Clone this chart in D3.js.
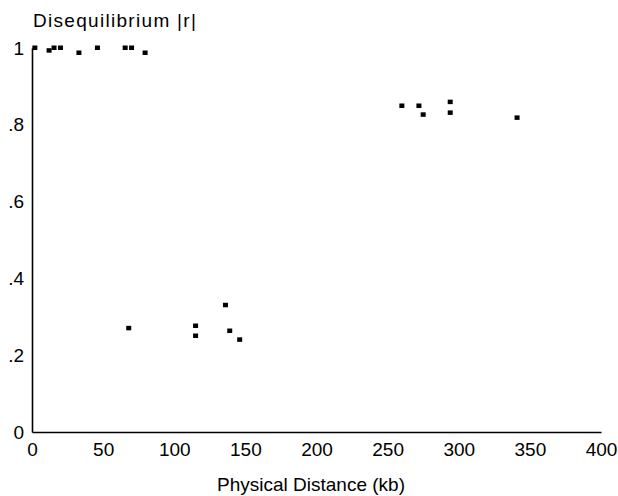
<!DOCTYPE html>
<html>
<head>
<meta charset="utf-8">
<script src="https://cdn.jsdelivr.net/npm/d3@7"></script>
<style>
  html, body { margin: 0; padding: 0; background: #fff; }
  svg { display: block; }
  text { font-family: "Liberation Sans", Arial, Helvetica, sans-serif; fill: #000; }
</style>
</head>
<body>
<svg id="chart" width="618" height="496"></svg>
<script>
// Data (physical distance in kb, |r|)
const distanceKb = [2, 12, 15.5, 20, 33, 46, 65.5, 70, 79.5,
                    68, 115, 115, 136, 139, 146,
                    260, 272, 275, 294, 294, 341];
const rValues    = [1.0, 0.993, 1.0, 1.0, 0.987, 1.0, 1.0, 1.0, 0.987,
                    0.27, 0.276, 0.25, 0.33, 0.263, 0.24,
                    0.849, 0.849, 0.826, 0.859, 0.831, 0.818];
const xTicks = [0, 50, 100, 150, 200, 250, 300, 350, 400];
const yTicks = [0, 0.2, 0.4, 0.6, 0.8, 1];
const yTickLabels = ["0", ".2", ".4", ".6", ".8", "1"];
const xTitle = "Physical Distance (kb)";
const yTitle = "Disequilibrium |r|";

const svg = d3.select("#chart");
const x = d3.scaleLinear().domain([0, 400]).range([32, 601]);
const y = d3.scaleLinear().domain([0, 1]).range([432, 48]);

const FONT = "'Liberation Sans', Arial, Helvetica, sans-serif";

// X axis
const xAxis = svg.append("g")
  .attr("transform", `translate(0,${y(0)})`)
  .call(d3.axisBottom(x).tickValues(xTicks).tickSize(0).tickPadding(11).tickSizeOuter(0));
xAxis.select(".domain").attr("stroke", "#000").attr("stroke-width", 1.6);
xAxis.selectAll("text").attr("font-size", 19).style("font-family", FONT).attr("fill", "#000");

// Y axis
const yAxis = svg.append("g")
  .attr("transform", `translate(${x(0)},0)`)
  .call(d3.axisLeft(y).tickValues(yTicks).tickSize(0).tickPadding(8).tickSizeOuter(0)
    .tickFormat((d, i) => yTickLabels[i]));
yAxis.select(".domain").attr("stroke", "#000").attr("stroke-width", 1.6);
yAxis.selectAll("text").attr("font-size", 19).style("font-family", FONT).attr("fill", "#000");

// Titles
svg.append("text")
  .attr("x", 33).attr("y", 27)
  .attr("font-size", 19)
  .attr("letter-spacing", 1.3)
  .text(yTitle);
svg.append("text")
  .attr("x", 311).attr("y", 491)
  .attr("text-anchor", "middle")
  .attr("font-size", 19)
  .text(xTitle);

// Points (small squares)
const pts = distanceKb.map((d, i) => ({ d, r: rValues[i] }));
svg.append("g").selectAll("rect")
  .data(pts)
  .join("rect")
  .attr("x", p => x(p.d) - 2.5)
  .attr("y", p => y(p.r) - 2.5)
  .attr("width", 5)
  .attr("height", 4.5)
  .attr("fill", "#000");
</script>
</body>
</html>
